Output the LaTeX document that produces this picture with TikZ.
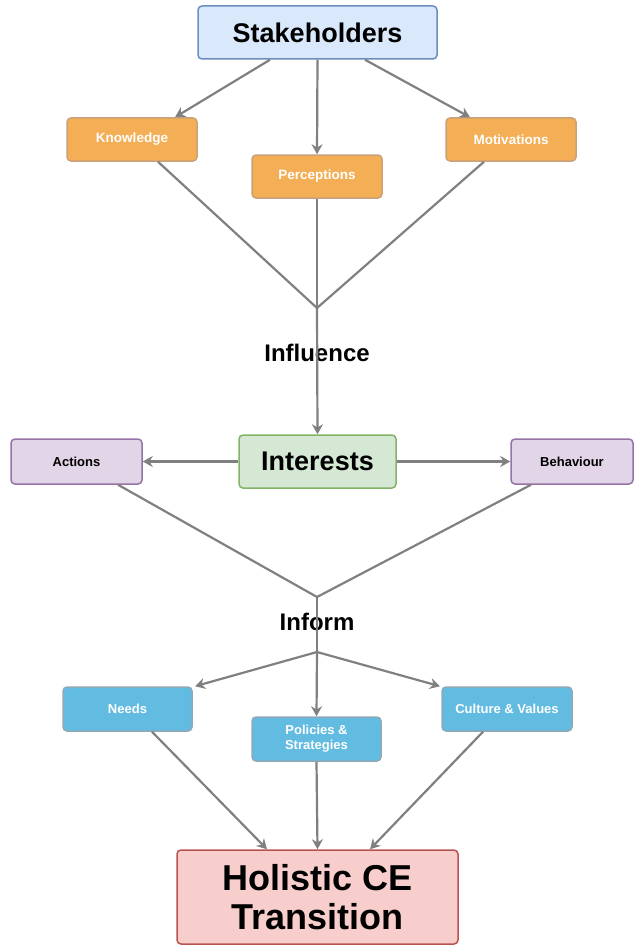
\documentclass[tikz,border=0pt]{standalone}
\usepackage{fontspec}
\setmainfont{Liberation Sans}
\usetikzlibrary{arrows.meta}
\definecolor{bluefill}{HTML}{DAE8FC}
\definecolor{blueline}{HTML}{6C8EBF}
\definecolor{orfill}{HTML}{F4AE56}
\definecolor{orline}{HTML}{C9A27A}
\definecolor{grfill}{HTML}{D5E8D4}
\definecolor{grline}{HTML}{82B366}
\definecolor{pufill}{HTML}{E1D5E7}
\definecolor{puline}{HTML}{9673A6}
\definecolor{cyfill}{HTML}{62BBE1}
\definecolor{cyline}{HTML}{8FA9B8}
\definecolor{rdfill}{HTML}{F8CECC}
\definecolor{rdline}{HTML}{B85450}
\definecolor{conn}{HTML}{808080}
\tikzset{
  box/.style={draw, rounded corners=4pt, line width=1.5pt, inner sep=0pt, align=center, font=\bfseries},
  orbox/.style={box, fill=orfill, draw=orline, minimum width=130pt, minimum height=43pt, text=white, font=\bfseries\fontsize{13.5}{15}\selectfont},
  cybox/.style={box, fill=cyfill, draw=cyline, minimum width=129pt, minimum height=44pt, text=white, font=\bfseries\fontsize{13}{15}\selectfont},
  pubox/.style={box, fill=pufill, draw=puline, minimum height=45pt, font=\bfseries\fontsize{13}{15}\selectfont},
  conn/.style={draw=conn, line width=2.2pt},
  arr/.style={conn, -{Stealth[length=10pt,width=11pt]}},
  lbl/.style={font=\bfseries\fontsize{24}{27}\selectfont, inner sep=0pt}
}
\begin{document}
\begin{tikzpicture}[x=1pt,y=-1pt]
\useasboundingbox (0,0) rectangle (633,947);
% nodes
\node[box, fill=bluefill, draw=blueline, minimum width=239pt, minimum height=53pt, font=\bfseries\fontsize{27}{30}\selectfont] (stake) at (317.5,32.5) {Stakeholders};
\node[orbox] (know) at (132,139.5) {Knowledge};
\node[orbox] (perc) at (317,176.5) {Perceptions};
\node[orbox] (moti) at (511,139.5) {Motivations};
\coordinate (j1) at (317,308);
\node[lbl] (infl) at (317,353) {Influence};
\node[box, fill=grfill, draw=grline, minimum width=157pt, minimum height=53pt, font=\bfseries\fontsize{27}{30}\selectfont] (inter) at (317.5,461.5) {Interests};
\node[pubox, minimum width=131pt] (act) at (76.5,461.5) {Actions};
\node[pubox, minimum width=122pt] (beh) at (572,461.5) {Behaviour};
\coordinate (j2) at (317,597);
\node[lbl] (info) at (317,622) {Inform};
\coordinate (j3) at (317,652);
\node[cybox] (need) at (127.5,709) {Needs};
\node[cybox] (poli) at (316.5,739) {Policies \&\\Strategies};
\node[cybox, minimum width=130pt] (cult) at (507,709) {Culture \& Values};
\node[box, fill=rdfill, draw=rdline, minimum width=281pt, minimum height=94pt, font=\bfseries\fontsize{36}{39}\selectfont] (holi) at (317.5,897) {Holistic CE\\Transition};
% connectors
\draw[arr] (stake.south -| 270,0) -- (know.north -| 175,0);
\draw[arr] (stake.south) -- (perc.north);
\draw[arr] (stake.south -| 365,0) -- (moti.north -| 470,0);
\draw[conn] (know.south -| 158,0) -- (j1);
\draw[conn] (moti.south -| 484,0) -- (j1);
\draw[conn] (perc.south) -- (j1);
\draw[arr] (j1) -- (inter.north);
\draw[arr] (inter.west) -- (act.east);
\draw[arr] (inter.east) -- (beh.west);
\draw[conn] (act.south -| 118,0) -- (j2);
\draw[conn] (beh.south -| 531,0) -- (j2);
\draw[conn] (j2) -- (j3);
\draw[arr] (j3) -- (need.north -| 195,0);
\draw[arr] (j3) -- (cult.north -| 440,0);
\draw[arr] (j3) -- (poli.north);
\draw[arr] (need.south -| 152,0) -- (holi.north -| 267,0);
\draw[arr] (poli.south) -- (holi.north);
\draw[arr] (cult.south -| 483,0) -- (holi.north -| 370,0);
\end{tikzpicture}
\end{document}
